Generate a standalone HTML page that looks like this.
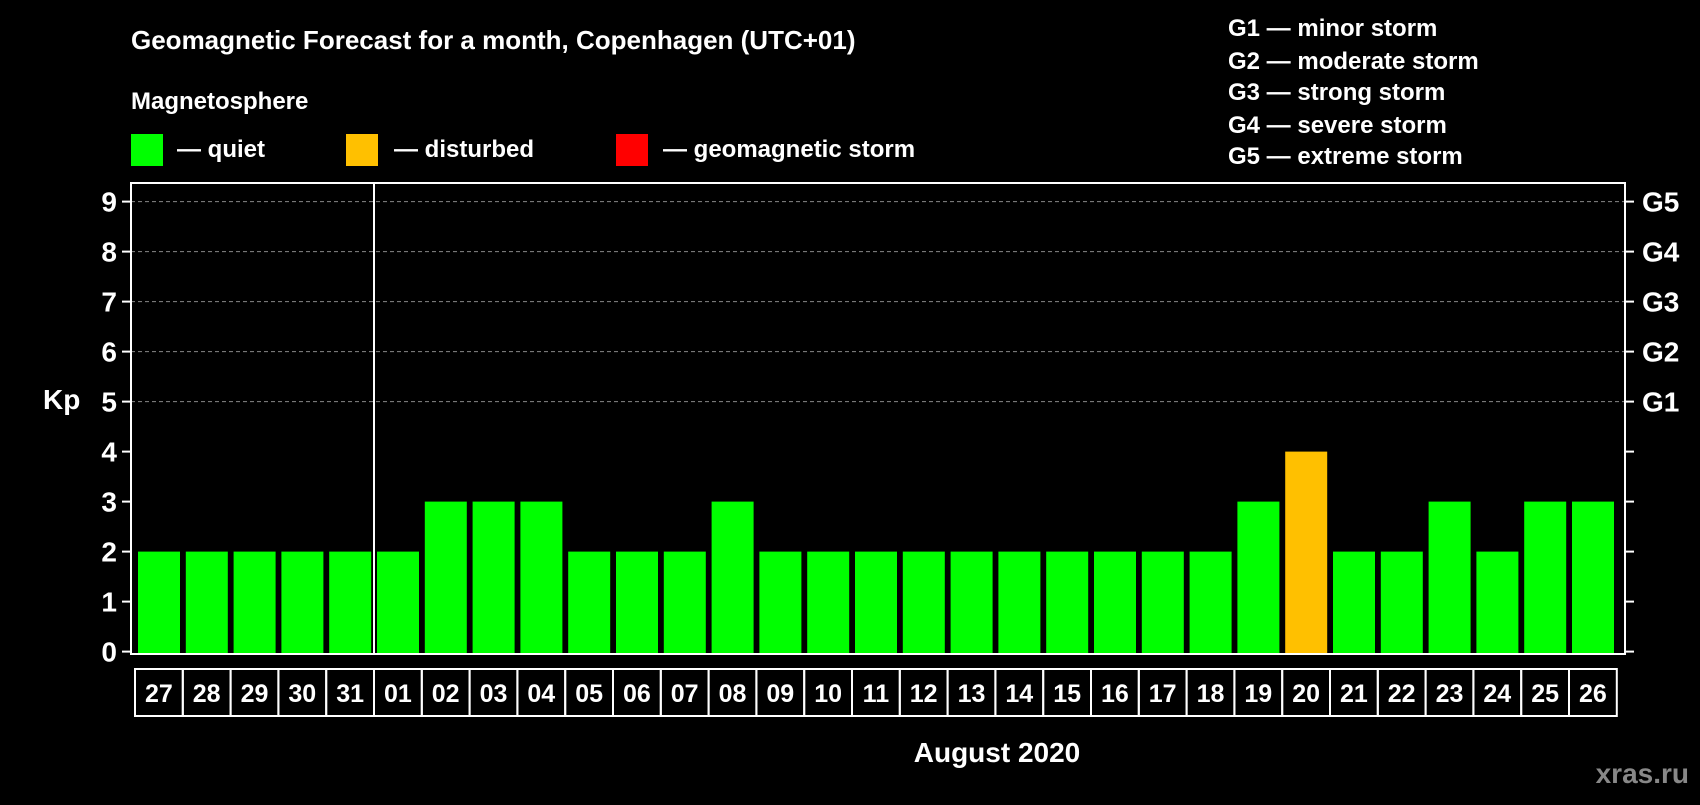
<!DOCTYPE html>
<html><head><meta charset="utf-8"><style>
body{margin:0;background:#000;width:1700px;height:800px;overflow:hidden;font-family:"Liberation Sans",Arial,sans-serif}
</style></head><body>
<svg id="c" width="1700" height="800" xmlns="http://www.w3.org/2000/svg" font-family="Liberation Sans, Arial, sans-serif" font-weight="bold" fill="#fff">
<rect width="1700" height="800" fill="#000"/>
<text x="131" y="49" font-size="26">Geomagnetic Forecast for a month, Copenhagen (UTC+01)</text>
<text x="131" y="109" font-size="24">Magnetosphere</text>
<rect x="131" y="134" width="32" height="32" fill="#00ff00"/>
<text x="177" y="157" font-size="24">— quiet</text>
<rect x="346" y="134" width="32" height="32" fill="#ffc000"/>
<text x="394" y="157" font-size="24">— disturbed</text>
<rect x="616" y="134" width="32" height="32" fill="#ff0000"/>
<text x="663" y="157" font-size="24">— geomagnetic storm</text>
<g font-size="24">
<text x="1228" y="36">G1 — minor storm</text>
<text x="1228" y="69">G2 — moderate storm</text>
<text x="1228" y="100">G3 — strong storm</text>
<text x="1228" y="133">G4 — severe storm</text>
<text x="1228" y="164">G5 — extreme storm</text>
</g>
<text x="43" y="409" font-size="28">Kp</text>
<text x="997" y="762" font-size="28" text-anchor="middle">August 2020</text>
<text x="1689" y="783" font-size="28" text-anchor="end" fill="#888">xras.ru</text>
<g id="plot"></g>
</svg>
<script>
const days=["27","28","29","30","31","01","02","03","04","05","06","07","08","09","10","11","12","13","14","15","16","17","18","19","20","21","22","23","24","25","26"];
const kpValues=[2,2,2,2,2,2,3,3,3,2,2,2,3,2,2,2,2,2,2,2,2,2,2,3,4,2,2,3,2,3,3];
const yTicks=[0,1,2,3,4,5,6,7,8,9];
const gLabels=["G1","G2","G3","G4","G5"];
const NS="http://www.w3.org/2000/svg";
const g=document.getElementById('plot');
const L=131,R=1625,T=183,B=654,y0=651.6,unit=50,bx0=138,pitch=47.8,bw=42;
const y=v=>y0-v*unit;
const x=i=>bx0+i*pitch;
function mk(t,a){const e=document.createElementNS(NS,t);for(const k in a)e.setAttribute(k,a[k]);g.appendChild(e);return e;}
// grid
yTicks.forEach(v=>{
 if(v>=5){const l=mk('line',{x1:L,x2:R,y1:y(v),y2:y(v),stroke:'#888','stroke-width':1,'stroke-dasharray':'4,3'});
 
 }
 const t=mk('line',{x1:L-9,x2:L,y1:y(v),y2:y(v),stroke:'#fff','stroke-width':2});
 
 
 const t2=mk('line',{x1:R,x2:R+9,y1:y(v),y2:y(v),stroke:'#fff','stroke-width':2});
 
 
 const tx=mk('text',{x:L-14,y:y(v)+10,'font-size':28,'text-anchor':'end'});tx.textContent=v;
 
 
});
gLabels.forEach((s,i)=>{const tx=mk('text',{x:R+17,y:y(5+i)+10,'font-size':28});tx.textContent=s;
 
 });
// bars
kpValues.forEach((v,i)=>{
 const c=v>=5?'#ff0000':(v>=4?'#ffc000':'#00ff00');
 const r=mk('rect',{x:x(i),y:y(v),width:bw,height:B-y(v),fill:c});
 
 
});
// frame
const f=mk('rect',{x:L,y:T,width:R-L,height:B-T,fill:'none',stroke:'#fff','stroke-width':2});


const d=mk('line',{x1:x(5)-3,x2:x(5)-3,y1:T,y2:B,stroke:'#fff','stroke-width':2});


// date boxes
const dbT=669,dbB=716;
days.forEach((s,i)=>{
 const bxl=x(i)-3;
 const r=mk('rect',{x:bxl,y:dbT,width:pitch,height:dbB-dbT,fill:'none',stroke:'#fff','stroke-width':2});
 
 
 const t=mk('text',{x:bxl+pitch/2,y:dbT+33,'font-size':25,'text-anchor':'middle'});t.textContent=s;
 
 
});
</script>
</body></html>
